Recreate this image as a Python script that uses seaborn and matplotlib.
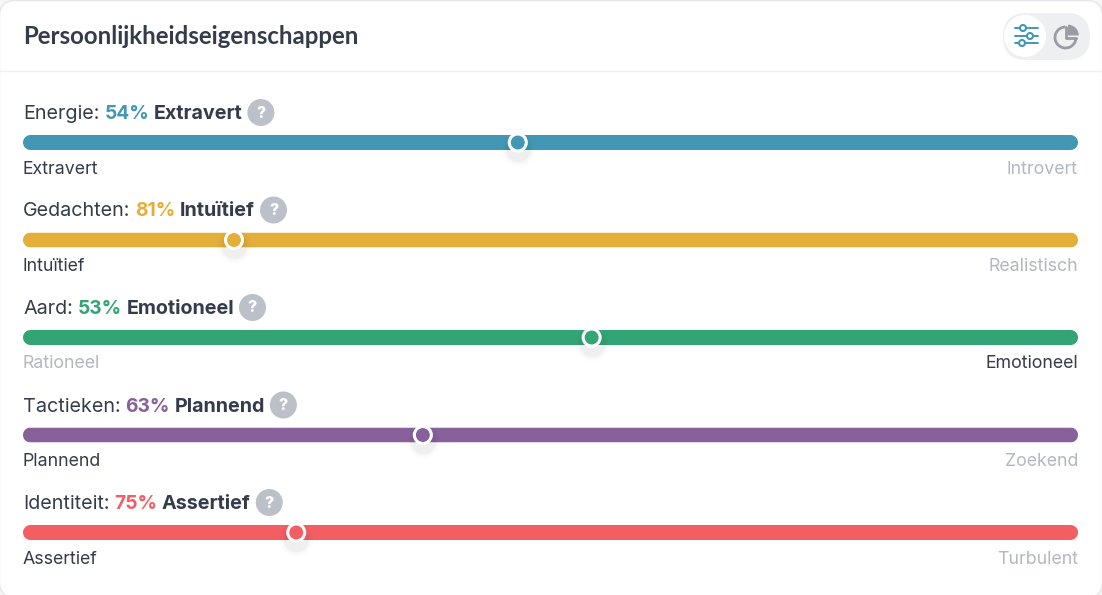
import matplotlib
matplotlib.use('Agg')
import matplotlib.pyplot as plt
from matplotlib.patches import Arc, Circle, FancyBboxPatch, Wedge
from matplotlib.path import Path
from matplotlib.transforms import Affine2D, IdentityTransform
import numpy as np
import pandas as pd
import seaborn as sns

# Chart values
traits = ['Energie', 'Gedachten', 'Aard', 'Tactieken', 'Identiteit']
percents = [54, 81, 53, 63, 75]
winners = ['Extravert', 'Intuïtief', 'Emotioneel', 'Plannend', 'Assertief']
left_labels = ['Extravert', 'Intuïtief', 'Rationeel', 'Plannend', 'Assertief']
right_labels = ['Introvert', 'Realistisch', 'Emotioneel', 'Zoekend', 'Turbulent']
bar_totals = [100, 100, 100, 100, 100]
thumb_positions = [46.9, 20.0, 53.9, 37.9, 25.9]
colors = ['#4298b4', '#e4ae3a', '#33a474', '#88619a', '#f25e62']

W, H = 1102, 595
DARK = '#343c4b'
MUTED = '#b3b7c1'
ICON = '#9a9ca4'

sns.set_theme(style='white')
plt.rcParams['font.family'] = ['Inter', 'DejaVu Sans']

df = pd.DataFrame({'trait': traits, 'total': bar_totals, 'thumb': thumb_positions})

fig = plt.figure(figsize=(W / 100, H / 100), dpi=100, facecolor='#f6f6f7')
ax = fig.add_axes([0, 0, 1, 1])
ax.patch.set_alpha(0)

# pixel coordinates from the top left, for the text and the card furniture
px = Affine2D().scale(1, -1).translate(0, H)

card = FancyBboxPatch((-0.5, 0.5), W + 1, H + 2, boxstyle='round,pad=0,rounding_size=16',
                      transform=px, fc='white', ec='#e6e7ea', lw=1, zorder=0)
ax.add_patch(card)
ax.plot([0, W], [71, 71], transform=px, color='#eeeff1', lw=0.9, zorder=1)

# seaborn's white style puts a white edge on bars, which eats the rounded ends
sns.barplot(df, x='total', y='trait', hue='trait', palette=colors, legend=False,
            width=15 / 97.5, saturation=1, linewidth=0, edgecolor='none', ax=ax, zorder=2)
sns.scatterplot(df, x='thumb', y='trait', hue='trait', palette=colors, legend=False,
                s=(17 * 0.72) ** 2, edgecolor='white', linewidth=2.2, ax=ax, zorder=4)

# soft shadow under the thumbs
for grow, alpha in [(34, 0.012), (29, 0.02), (25, 0.03)]:
    ax.scatter(df['thumb'], df.index, s=(grow * 0.72) ** 2, color='black',
               alpha=alpha, linewidths=0, zorder=3,
               transform=ax.transData + Affine2D().translate(0, -6))

# 0-100 runs from x=23 to x=1078 and the rows sit 97.5 px apart
ax.set_xlim(-23 / 10.55, (W - 23) / 10.55)
ax.set_ylim((H - 142.5) / 97.5, -142.5 / 97.5)
ax.set_axis_off()

# round the bar ends
fig.canvas.draw()
for bar in ax.patches:
    if not isinstance(bar, matplotlib.patches.Rectangle):
        continue
    bar.set_snap(False)
    box = bar.get_window_extent()
    r = box.height / 2
    turn = np.linspace(-np.pi / 2, np.pi / 2, 24)
    right = np.column_stack([box.x1 - r + r * np.cos(turn), box.y0 + r + r * np.sin(turn)])
    left = np.column_stack([box.x0 + r - r * np.cos(turn), box.y0 + r - r * np.sin(turn)])
    outline = np.vstack([right, left, right[:1]])
    bar.set_clip_path(Path(outline), IdentityTransform())


def run_text(x, y, s, **kw):
    t = ax.text(x, y, s, transform=px, va='baseline', ha='left', **kw)
    return x + t.get_window_extent().width


for i, trait in enumerate(traits):
    base = 119 + 97.5 * i
    x = run_text(23, base, trait + ':', fontsize=14.2, color=DARK)
    x = run_text(x + 5, base, f'{percents[i]}%', fontsize=13.8, color=colors[i], fontweight='bold')
    x = run_text(x + 4.5, base, winners[i], fontsize=14.2, color=DARK, fontweight='bold')
    mid = 112.5 + 97.5 * i
    ax.add_patch(Circle((x + 18.5, mid), 13.5, transform=px, fc='#bcc0c8', ec='none', zorder=2))
    ax.text(x + 18.5, mid + 0.5, '?', transform=px, ha='center', va='center', color='white',
            fontsize=11.5, fontweight='heavy')

    sub = 173.5 + 97.5 * i
    left_on = left_labels[i] == winners[i]
    ax.text(23, sub, left_labels[i], transform=px, fontsize=12.8,
            color=DARK if left_on else MUTED)
    ax.text(1078, sub, right_labels[i], transform=px, fontsize=12.8, ha='right',
            color=MUTED if left_on else DARK)

ax.text(23, 44, 'Persoonlijkheidseigenschappen', transform=px, fontsize=17.3,
        fontweight='bold', color=DARK, family='Lato')

# toggle in the top right corner
ax.add_patch(FancyBboxPatch((1003, 13), 87, 47, boxstyle='round,pad=0,rounding_size=23.5',
                            transform=px, fc='#eeeff1', ec='none', zorder=2))
ax.add_patch(Circle((1025, 36), 21, transform=px, fc='white', ec='none', zorder=3))
for ly, lx in [(28, 1023), (36, 1030), (43, 1022)]:
    ax.plot([1015, 1037.5], [ly, ly], transform=px, color=colors[0], lw=1.4, zorder=4)
    ax.add_patch(Circle((lx, ly), 3, transform=px, fc='white', ec=colors[0], lw=1.5, zorder=5))
ax.add_patch(Arc((1065.5, 37.5), 21, 21, theta1=0, theta2=270, transform=px,
                 color=ICON, lw=2, zorder=4))
ax.add_patch(Wedge((1068, 35.5), 10.8, 270, 360, transform=px, fc=ICON, ec='none', zorder=4))
ax.plot([1065.5, 1065.5, 1076], [27, 38, 38], transform=px, color=ICON, lw=2, zorder=4)

fig.savefig('out.png', dpi=100, facecolor=fig.get_facecolor())
